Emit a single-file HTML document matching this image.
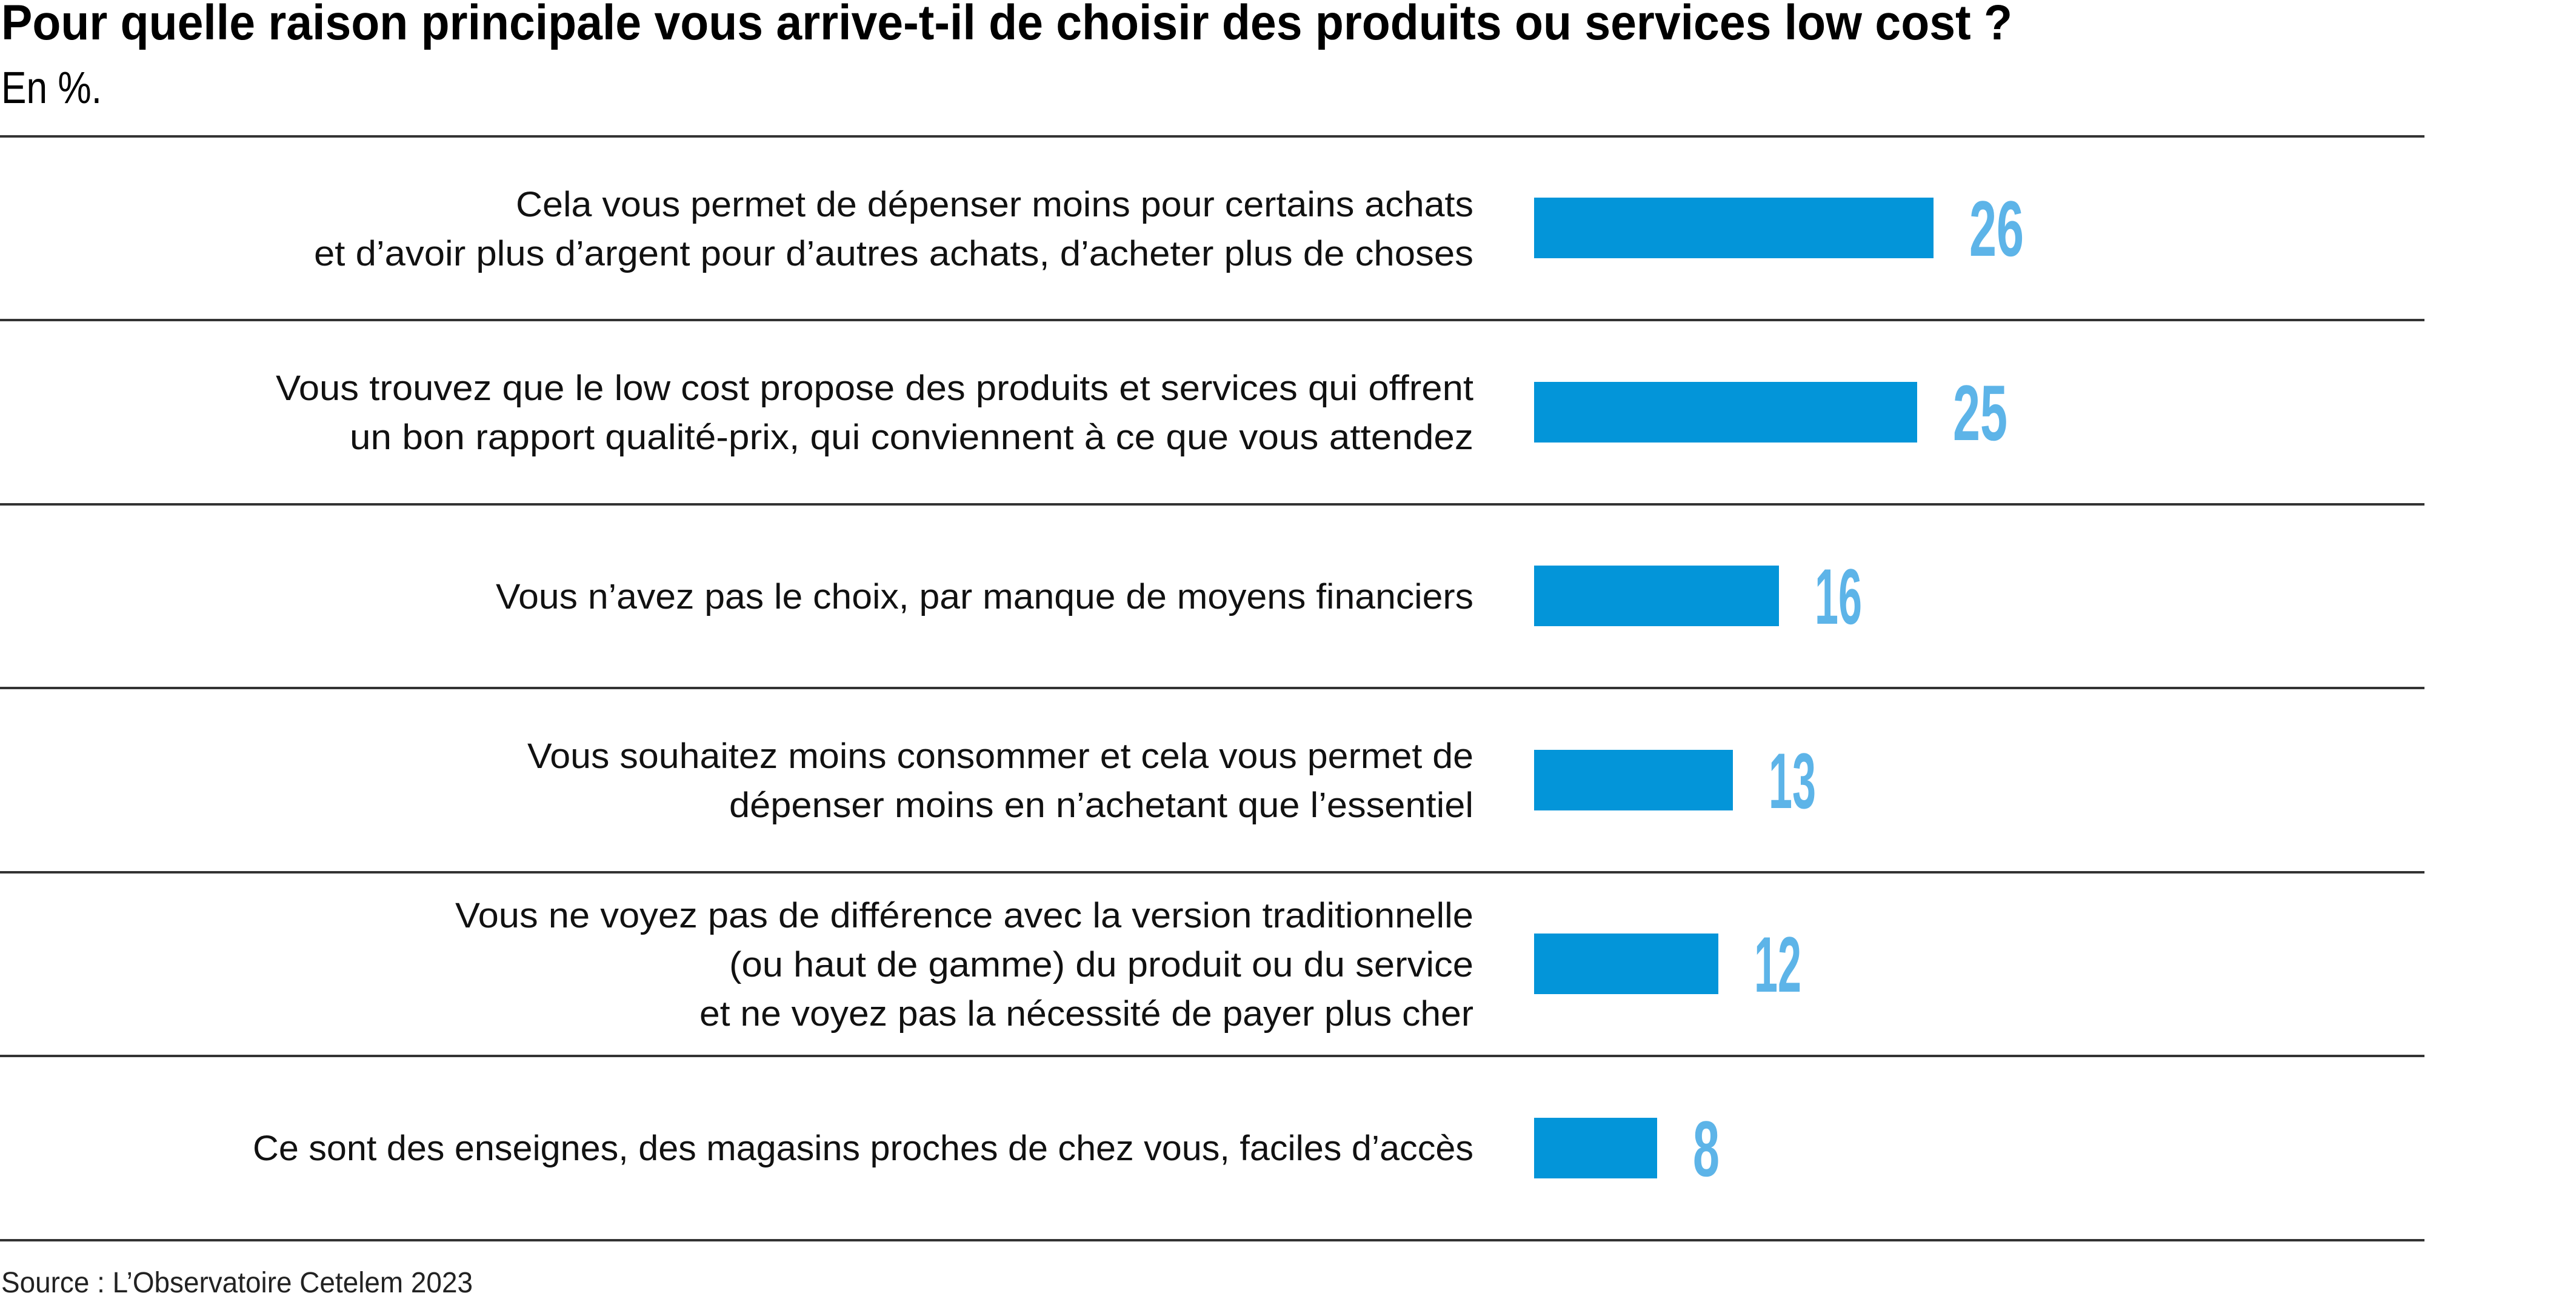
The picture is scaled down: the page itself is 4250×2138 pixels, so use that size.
<!DOCTYPE html>
<html><head><meta charset="utf-8"><style>
html,body{margin:0;padding:0;background:#fff;}
svg{display:block;}
</style></head><body>
<svg width="4250" height="2138" viewBox="0 0 4250 2138" xmlns="http://www.w3.org/2000/svg" font-family="Liberation Sans, sans-serif">
<text x="2" y="65" font-size="82" font-weight="bold" textLength="3318" lengthAdjust="spacingAndGlyphs">Pour quelle raison principale vous arrive-t-il de choisir des produits ou services low cost ?</text>
<text x="2" y="170" font-size="74" textLength="166" lengthAdjust="spacingAndGlyphs">En %.</text>
<g stroke="#333" stroke-width="4">
<line x1="0" y1="225" x2="4000" y2="225"/>
<line x1="0" y1="528" x2="4000" y2="528"/>
<line x1="0" y1="832" x2="4000" y2="832"/>
<line x1="0" y1="1135" x2="4000" y2="1135"/>
<line x1="0" y1="1439" x2="4000" y2="1439"/>
<line x1="0" y1="1742" x2="4000" y2="1742"/>
<line x1="0" y1="2046" x2="4000" y2="2046"/>
</g>
<g fill="#0395d9">
<rect x="2531" y="326" width="659" height="100"/>
<rect x="2531" y="630" width="632" height="100"/>
<rect x="2531" y="933" width="404" height="100"/>
<rect x="2531" y="1237" width="328" height="100"/>
<rect x="2531" y="1540" width="304" height="100"/>
<rect x="2531" y="1844" width="203" height="100"/>
</g>
<g fill="#5db4e8" font-size="130" font-weight="bold" lengthAdjust="spacingAndGlyphs">
<text x="3249" y="422" textLength="90" lengthAdjust="spacingAndGlyphs">26</text>
<text x="3222" y="726" textLength="90" lengthAdjust="spacingAndGlyphs">25</text>
<text x="2994" y="1029" textLength="78" lengthAdjust="spacingAndGlyphs">16</text>
<text x="2918" y="1333" textLength="78" lengthAdjust="spacingAndGlyphs">13</text>
<text x="2894" y="1636" textLength="78" lengthAdjust="spacingAndGlyphs">12</text>
<text x="2793" y="1940" textLength="44" lengthAdjust="spacingAndGlyphs">8</text>
</g>
<g font-size="58" fill="#111" text-anchor="end">
<text x="2431" y="357" textLength="1580" lengthAdjust="spacingAndGlyphs">Cela vous permet de dépenser moins pour certains achats</text>
<text x="2431" y="438" textLength="1913" lengthAdjust="spacingAndGlyphs">et d’avoir plus d’argent pour d’autres achats, d’acheter plus de choses</text>
<text x="2431" y="660" textLength="1976" lengthAdjust="spacingAndGlyphs">Vous trouvez que le low cost propose des produits et services qui offrent</text>
<text x="2431" y="741" textLength="1854" lengthAdjust="spacingAndGlyphs">un bon rapport qualité-prix, qui conviennent à ce que vous attendez</text>
<text x="2431" y="1004" textLength="1613" lengthAdjust="spacingAndGlyphs">Vous n’avez pas le choix, par manque de moyens financiers</text>
<text x="2431" y="1267" textLength="1561" lengthAdjust="spacingAndGlyphs">Vous souhaitez moins consommer et cela vous permet de</text>
<text x="2431" y="1348" textLength="1228" lengthAdjust="spacingAndGlyphs">dépenser moins en n’achetant que l’essentiel</text>
<text x="2431" y="1530" textLength="1680" lengthAdjust="spacingAndGlyphs">Vous ne voyez pas de différence avec la version traditionnelle</text>
<text x="2431" y="1611" textLength="1228" lengthAdjust="spacingAndGlyphs">(ou haut de gamme) du produit ou du service</text>
<text x="2431" y="1692" textLength="1277" lengthAdjust="spacingAndGlyphs">et ne voyez pas la nécessité de payer plus cher</text>
<text x="2431" y="1914" textLength="2014" lengthAdjust="spacingAndGlyphs">Ce sont des enseignes, des magasins proches de chez vous, faciles d’accès</text>
</g>
<text x="2" y="2132" font-size="48" fill="#222" textLength="778" lengthAdjust="spacingAndGlyphs">Source : L’Observatoire Cetelem 2023</text>
</svg>
</body></html>
